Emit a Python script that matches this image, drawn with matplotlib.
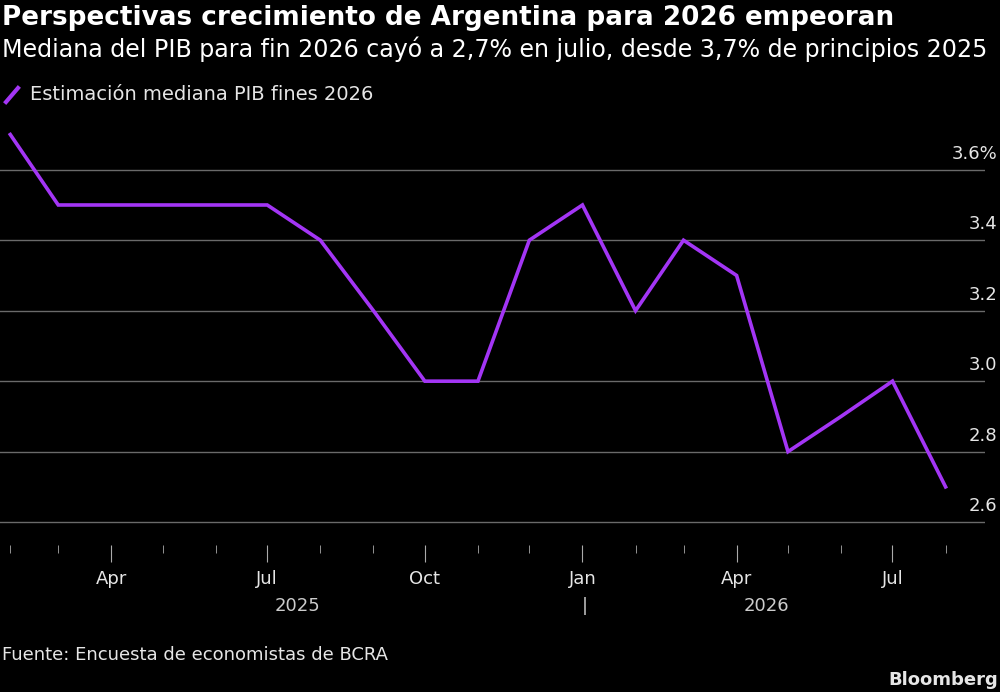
import matplotlib
matplotlib.use("Agg")
import matplotlib.pyplot as plt
import matplotlib.dates as mdates
import matplotlib.transforms as mtrans
import datetime as dt

dates = [dt.date(2025, m, 1) for m in range(2, 13)] + [dt.date(2026, m, 1) for m in range(1, 9)]
values = [3.7, 3.5, 3.5, 3.5, 3.5, 3.5, 3.4, 3.2, 3.0, 3.0, 3.4, 3.5, 3.2, 3.4, 3.3, 2.8, 2.9, 3.0, 2.7]
yticks = [2.6, 2.8, 3.0, 3.2, 3.4, 3.6]
ylabels = ["2.6", "2.8", "3.0", "3.2", "3.4", "3.6%"]

plt.rcParams['font.family'] = ['DejaVu Sans']
fig = plt.figure(figsize=(10, 6.92), dpi=100, facecolor='black')
ax = fig.add_axes([0.0, 0.2124, 0.985, 0.827 - 0.2124], facecolor='black')
ax.plot(dates, values, color='#a335f5', lw=2.6, solid_joinstyle='miter')
ax.set_xlim(dt.date(2025, 1, 26), dt.date(2026, 8, 24))
ax.set_ylim(2.535, 3.742)
for s in ax.spines.values():
    s.set_visible(False)
ax.set_yticks(yticks)
ax.tick_params(axis='y', length=0, labelleft=False)
ax.grid(axis='y', color='#6a6a6a', lw=1)
ax.set_axisbelow(True)
tr = mtrans.blended_transform_factory(fig.transFigure, ax.transData)
for v, l in zip(yticks, ylabels):
    ax.text(0.997, v + 0.02, l, transform=tr, ha='right', va='bottom', color='#e6e6e6', fontsize=13)

ax.xaxis.set_major_locator(mdates.MonthLocator(bymonth=[1, 4, 7, 10]))
ax.xaxis.set_major_formatter(mdates.DateFormatter('%b'))
ax.xaxis.set_minor_locator(mdates.MonthLocator())
ax.tick_params(axis='x', which='major', length=12, color='#aaaaaa', labelcolor='#e6e6e6', labelsize=13, pad=6)
ax.tick_params(axis='x', which='minor', length=6, color='#aaaaaa')
fig.text(0.298, 1 - 606/692, "2025", color='#cccccc', fontsize=13, ha='center', va='center')
fig.text(0.766, 1 - 606/692, "2026", color='#cccccc', fontsize=13, ha='center', va='center')
fig.text(0.585, 1 - 606/692, "|", color='#cccccc', fontsize=13, ha='center', va='center')

fig.text(0.002, 1 - 18/692, "Perspectivas crecimiento de Argentina para 2026 empeoran", color='white',
         fontsize=18.9, fontweight='bold', ha='left', va='center')
fig.text(0.002, 1 - 49/692, "Mediana del PIB para fin 2026 cayó a 2,7% en julio, desde 3,7% de principios 2025",
         color='white', fontsize=17.1, ha='left', va='center')
fig.add_artist(plt.Line2D([0.006, 0.018], [1 - 102/692, 1 - 88/692], color='#a335f5', lw=3))
fig.text(0.03, 1 - 95/692, "Estimación mediana PIB fines 2026", color='#e6e6e6', fontsize=14, ha='left', va='center')
fig.text(0.002, 1 - 655/692, "Fuente: Encuesta de economistas de BCRA", color='#e6e6e6', fontsize=13, ha='left', va='center')
fig.text(0.998, 1 - 680/692, "Bloomberg", color='#e6e6e6', fontsize=13, fontweight='bold', ha='right', va='center')
fig.savefig('out.png', dpi=100, facecolor='black')
